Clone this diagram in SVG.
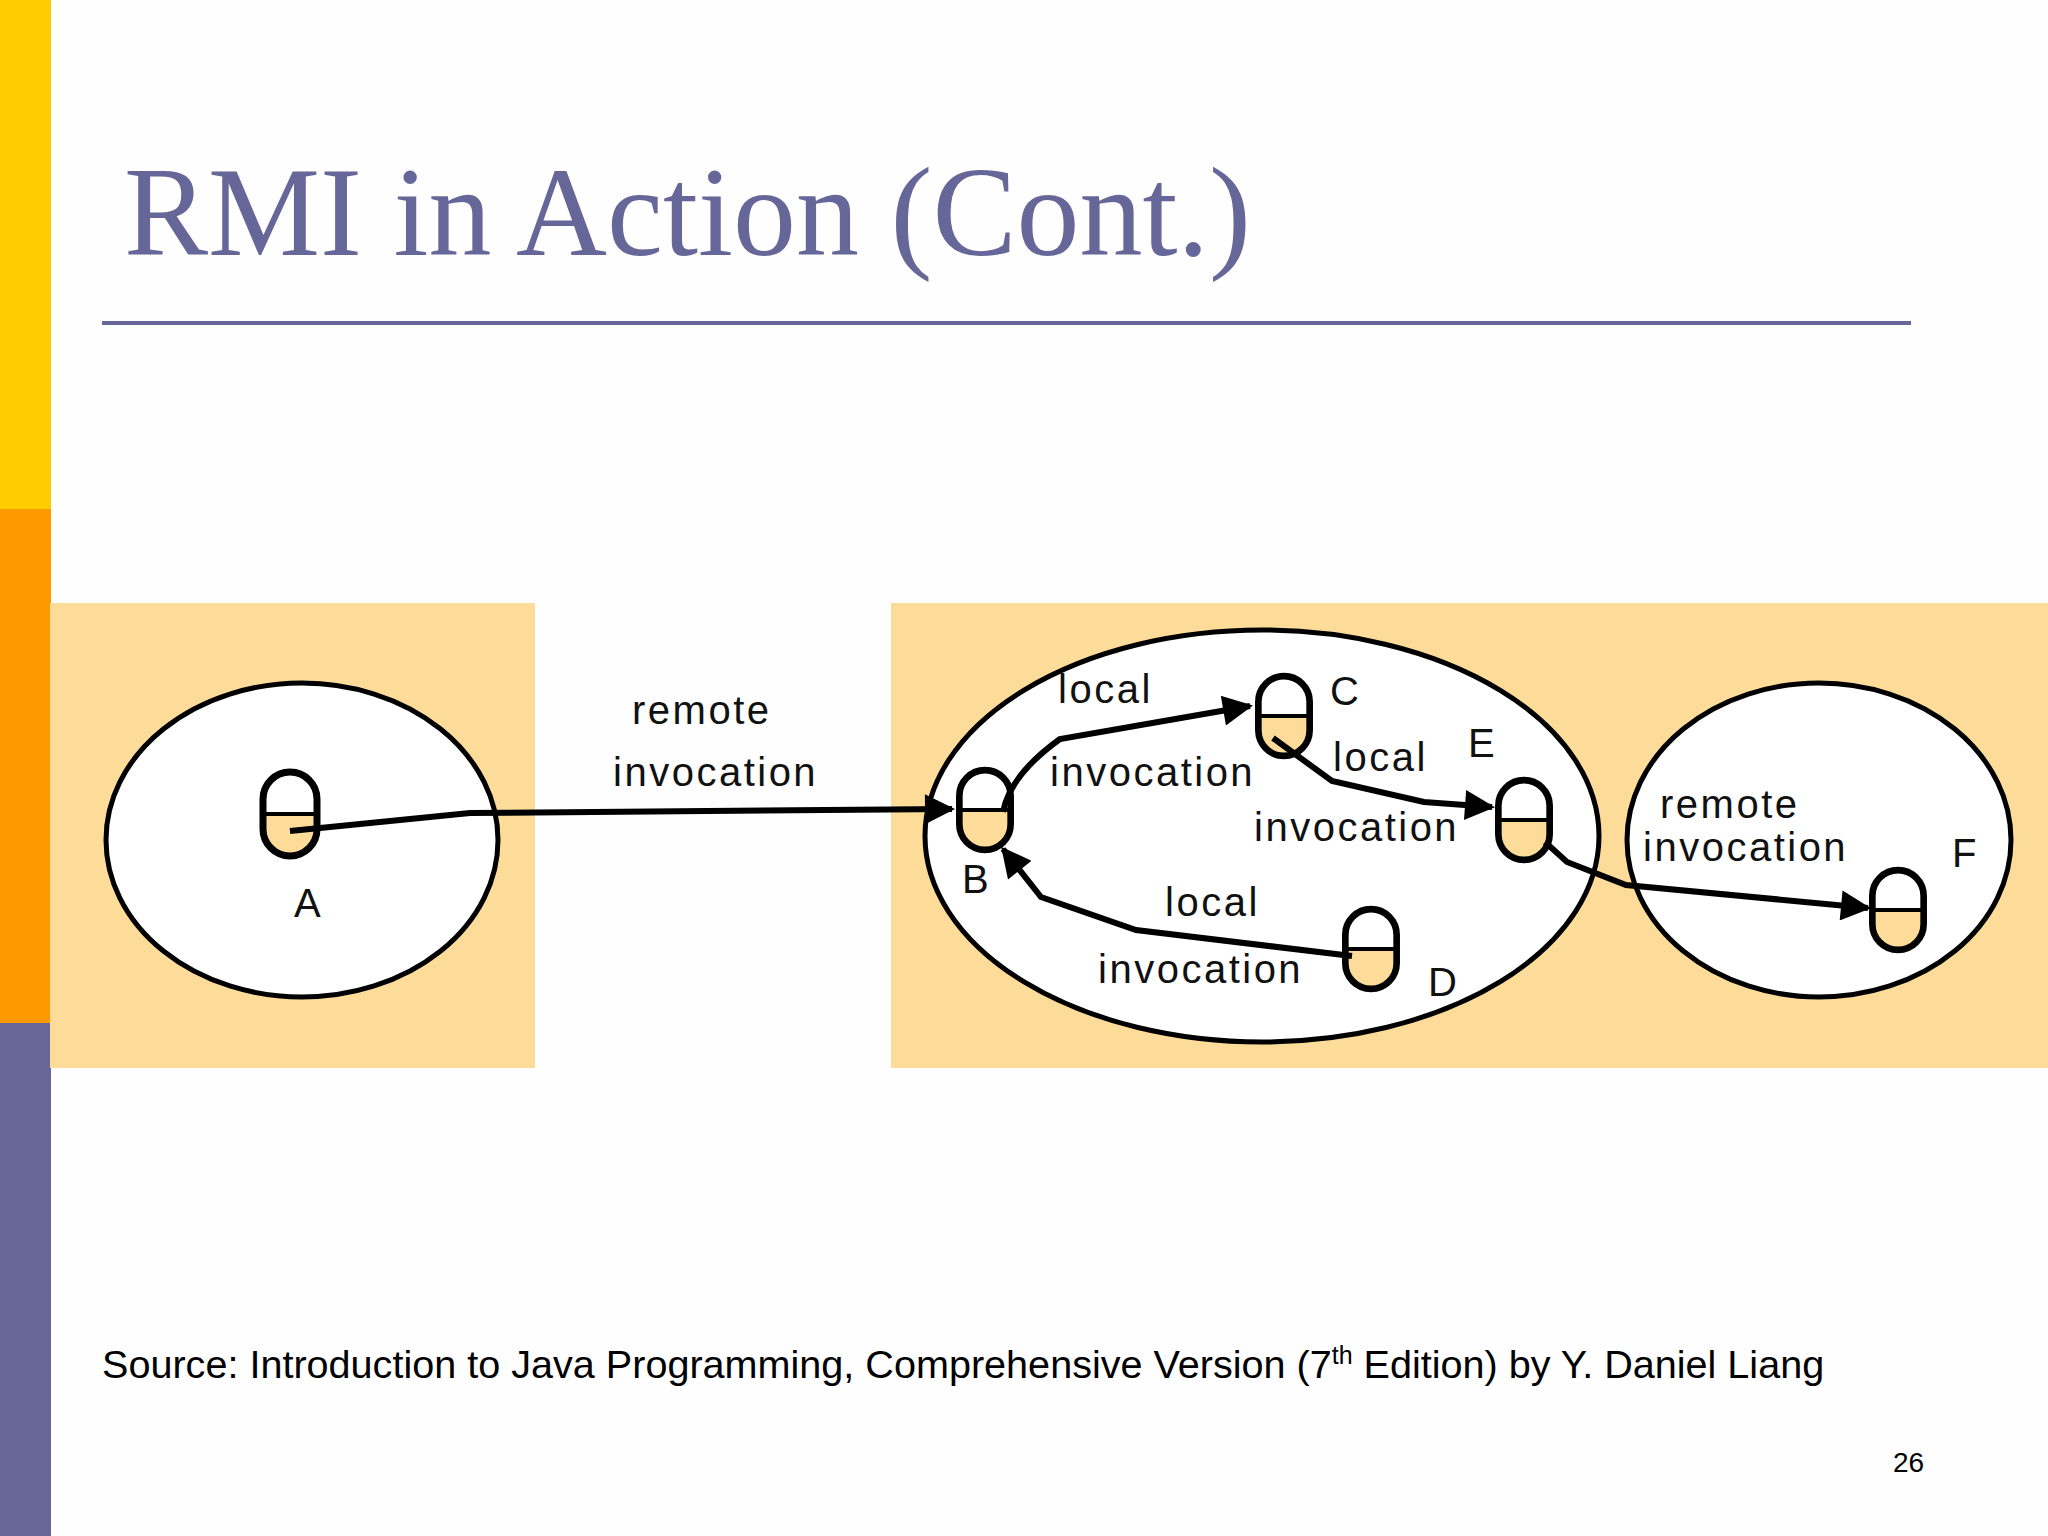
<svg xmlns="http://www.w3.org/2000/svg" width="2048" height="1536" viewBox="0 0 2048 1536">
<style>
.lbl{font-family:"Liberation Sans",Arial,sans-serif;font-size:40px;letter-spacing:2.5px;fill:#111}
.el{fill:#fff;stroke:#000;stroke-width:5}
.con{fill:none;stroke:#000;stroke-width:6;marker-end:url(#ah)}
</style>
<defs>
<marker id="ah" viewBox="0 0 10 10" refX="9" refY="5" markerWidth="6" markerHeight="5" markerUnits="strokeWidth" orient="auto"><path d="M0,0 L10,5 L0,10 z" fill="#000"/></marker>
<g id="obj">
<clipPath id="cp"><rect x="-27" y="-42" width="54" height="84" rx="27"/></clipPath>
<rect x="-27" y="-42" width="54" height="84" fill="#fff"/>
<rect x="-27" y="0" width="54" height="42" fill="#fddc9a" clip-path="url(#cp)"/>
<line x1="-27" y1="0" x2="27" y2="0" stroke="#000" stroke-width="4"/>
<rect x="-27" y="-42" width="54" height="84" rx="27" fill="none" stroke="#000" stroke-width="7"/>
</g>
</defs>
<rect width="2048" height="1536" fill="#fdfefd"/>
<rect x="0" y="0" width="51" height="509" fill="#ffcc00"/>
<rect x="0" y="509" width="51" height="514" fill="#ff9900"/>
<rect x="0" y="1023" width="51" height="513" fill="#666699"/>
<text x="124" y="255" font-family="'Liberation Serif','Times New Roman',serif" font-size="126" fill="#666699">RMI in Action (Cont.)</text>
<line x1="102" y1="323" x2="1911" y2="323" stroke="#666699" stroke-width="4"/>
<rect x="50" y="603" width="485" height="465" fill="#fddc9a"/>
<rect x="891" y="603" width="1157" height="465" fill="#fddc9a"/>
<g id="hostA"><ellipse cx="302" cy="840" rx="196" ry="157" class="el"/></g>
<g id="hostB"><ellipse cx="1262" cy="836" rx="337" ry="206" class="el"/></g>
<g id="hostF"><ellipse cx="1819" cy="840" rx="192" ry="157" class="el"/></g>
<g id="A"><use href="#obj" transform="translate(290,814)"/><text class="lbl" x="294" y="917">A</text></g>
<g id="B"><use href="#obj" transform="translate(985,810) scale(0.95)"/><text class="lbl" x="962" y="893">B</text></g>
<g id="C"><use href="#obj" transform="translate(1284,716) scale(0.95)"/><text class="lbl" x="1330" y="705">C</text></g>
<g id="E"><use href="#obj" transform="translate(1524,820) scale(0.95)"/><text class="lbl" x="1468" y="757">E</text></g>
<g id="D"><use href="#obj" transform="translate(1371,949) scale(0.95)"/><text class="lbl" x="1428" y="996">D</text></g>
<g id="F"><use href="#obj" transform="translate(1898,910) scale(0.95)"/><text class="lbl" x="1952" y="867">F</text></g>
<g id="connectors">
<path class="con" d="M290,831 L470,813 L952,809"/>
<path class="con" d="M1003,812 Q1010,775 1060,739 L1250,706"/>
<path class="con" d="M1273,738 L1332,781 L1424,802 L1492,807"/>
<path class="con" d="M1352,956 L1136,930 L1041,897 L1003,849"/>
<path class="con" d="M1545,842 L1567,862 L1626,885 L1868,908"/>
</g>
<g class="lbl">
<text x="632" y="724">remote</text>
<text x="613" y="786">invocation</text>
<text x="1058" y="703">local</text>
<text x="1050" y="786">invocation</text>
<text x="1333" y="771">local</text>
<text x="1254" y="841">invocation</text>
<text x="1165" y="916">local</text>
<text x="1098" y="983">invocation</text>
<text x="1660" y="818">remote</text>
<text x="1643" y="861">invocation</text>
</g>
<text x="102" y="1378" font-family="'Liberation Sans',Arial,sans-serif" font-size="39.6" fill="#000">Source: Introduction to Java Programming, Comprehensive Version (7<tspan font-size="25" dy="-14">th</tspan><tspan dy="14"> Edition) by Y. Daniel Liang</tspan></text>
<text x="1893" y="1472" font-family="'Liberation Sans',Arial,sans-serif" font-size="28" fill="#000">26</text>
</svg>
